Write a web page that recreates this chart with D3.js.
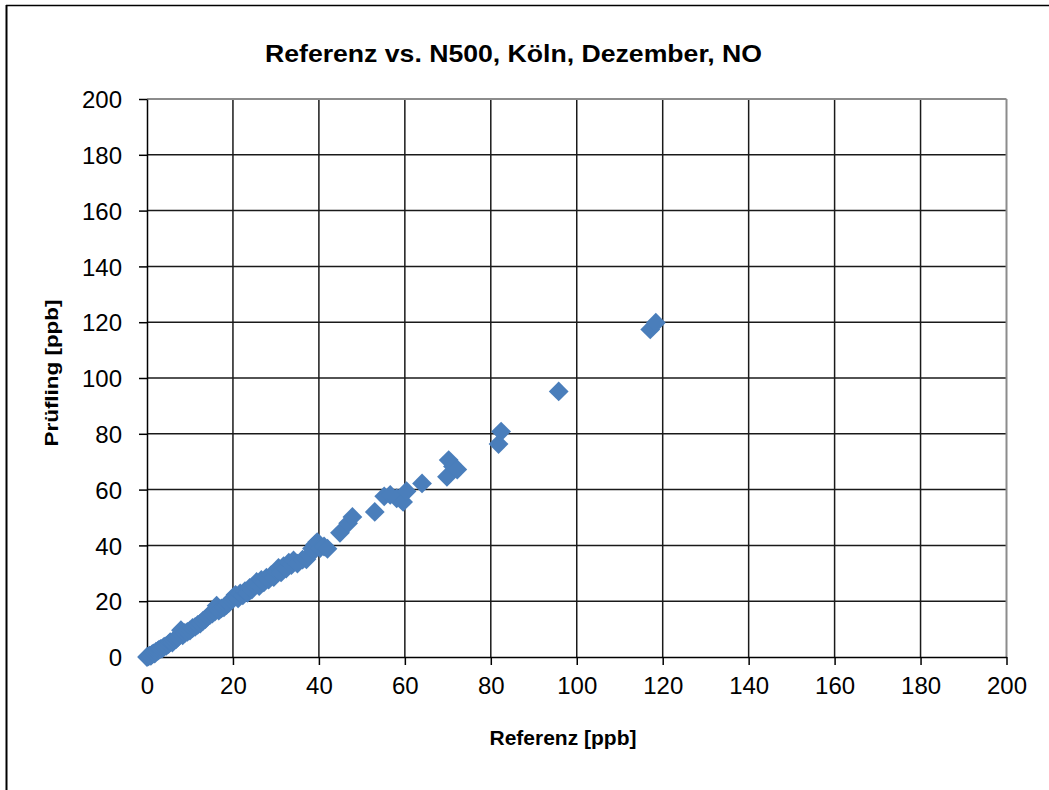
<!DOCTYPE html>
<html>
<head>
<meta charset="utf-8">
<script src="https://cdn.jsdelivr.net/npm/d3@7"></script>
<style>
  html, body { margin: 0; padding: 0; background: #fff; }
  svg { display: block; }
  text { font-family: "Liberation Sans", Arial, sans-serif; fill: #000; }
</style>
</head>
<body>
<svg id="chart" width="1049" height="790"></svg>
<script>
// ---- data ----
const title = "Referenz vs. N500, Köln, Dezember, NO";
const xLabel = "Referenz [ppb]";
const yLabel = "Prüfling [ppb]";
const xTicks = [0, 20, 40, 60, 80, 100, 120, 140, 160, 180, 200];
const yTicks = [0, 20, 40, 60, 80, 100, 120, 140, 160, 180, 200];
const referenz = [0, 0.3, 0.6, 0.9, 1.2, 1.5, 1.8, 2.1, 2.5, 2.8, 3.2, 3.6, 4.0, 4.5, 5.0, 5.4, 5.9, 6.3, 6.8, 7.2,
  7.9, 8.3, 8.8, 9.4, 10.0, 10.6, 11.2, 11.8, 12.4, 13.0, 13.6, 14.1, 14.7, 15.2, 15.8, 16.2, 16.7, 17.3, 17.9, 18.5,
  19.0, 19.6, 20.1, 20.6, 21.2, 21.7, 22.3, 22.8, 23.4, 23.9, 24.4, 25.0, 25.5, 26.1, 26.6, 27.2, 27.8, 28.3, 28.9, 29.5,
  30.1, 30.6, 31.2, 31.8, 32.4, 33.0, 33.6, 34.1, 35.0, 36.2, 37.1, 37.8, 38.4, 39.1, 39.6, 40.3, 41.2, 42.0, 44.9, 46.8,
  47.8, 53.0, 55.2, 56.6, 58.1, 59.6, 60.4, 64.0, 69.8, 70.2, 71.2, 72.2, 81.8, 82.4, 95.8, 117.1, 118.4];
const pruefling = [0, 0.2, 0.5, 0.4, 1.0, 1.3, 1.2, 1.9, 2.2, 2.6, 2.9, 3.1, 3.7, 4.0, 4.6, 5.3, 5.2, 6.0, 6.4, 7.1,
  9.6, 7.8, 8.6, 9.0, 9.5, 10.4, 10.8, 11.5, 12.0, 12.9, 13.6, 14.5, 15.1, 15.6, 16.3, 18.4, 16.6, 17.4, 17.8, 18.6,
  19.3, 20.4, 21.2, 22.3, 21.0, 22.8, 22.1, 23.6, 23.0, 24.8, 24.2, 25.7, 26.9, 25.4, 27.6, 26.8, 28.4, 27.7, 29.3, 28.6,
  30.8, 31.9, 30.3, 32.6, 31.7, 33.8, 32.9, 34.6, 33.5, 34.9, 35.0, 36.6, 38.9, 40.3, 41.2, 39.0, 39.6, 38.8, 44.5, 47.9,
  50.2, 52.0, 57.6, 58.1, 56.9, 55.6, 59.4, 62.2, 64.6, 70.6, 68.3, 67.2, 76.3, 80.8, 95.2, 117.4, 119.8];

// ---- layout ----
const svg = d3.select("#chart");
const L = 147, R = 1006.5, T = 99, B = 657;
const x = d3.scaleLinear().domain([0, 200]).range([L, R]);
const y = d3.scaleLinear().domain([0, 200]).range([B, T]);

// outer frame (top + left visible)
svg.append("line").attr("x1", 6).attr("x2", 1049).attr("y1", 5.5).attr("y2", 5.5)
  .attr("stroke", "#000").attr("stroke-width", 1.5);
svg.append("line").attr("x1", 6.5).attr("x2", 6.5).attr("y1", 5).attr("y2", 790)
  .attr("stroke", "#000").attr("stroke-width", 2);

// gridlines
const grid = svg.append("g");
grid.selectAll("line.h").data(yTicks.filter(d => d > 0 && d < 200)).enter().append("line")
  .attr("x1", L).attr("x2", R).attr("y1", d => y(d)).attr("y2", d => y(d))
  .attr("stroke", "#1a1a1a").attr("stroke-width", 1.5);
grid.selectAll("line.v").data(xTicks.filter(d => d > 0 && d < 200)).enter().append("line")
  .attr("y1", T).attr("y2", B).attr("x1", d => x(d)).attr("x2", d => x(d))
  .attr("stroke", "#1a1a1a").attr("stroke-width", 1.5);
// plot area border top/right (grey)
grid.append("line").attr("x1", L).attr("x2", R).attr("y1", y(200)).attr("y2", y(200))
  .attr("stroke", "#8c8c8c").attr("stroke-width", 2);
grid.append("line").attr("x1", x(200)).attr("x2", x(200)).attr("y1", T).attr("y2", B)
  .attr("stroke", "#8c8c8c").attr("stroke-width", 2);

// axes
const xAxis = d3.axisBottom(x).tickValues(xTicks).tickSize(8).tickPadding(12).tickSizeOuter(0);
const yAxis = d3.axisLeft(y).tickValues(yTicks).tickSize(8).tickPadding(17).tickSizeOuter(0);
const gx = svg.append("g").attr("transform", `translate(0,${B})`).call(xAxis);
const gy = svg.append("g").attr("transform", `translate(${L},0)`).call(yAxis);
[gx, gy].forEach(g => {
  g.select(".domain").attr("stroke", "#000").attr("stroke-width", 1.5);
  g.selectAll(".tick line").attr("stroke", "#000").attr("stroke-width", 1.5);
  g.selectAll(".tick text").attr("font-family", "'Liberation Sans', Arial, sans-serif")
    .attr("font-size", 24).attr("fill", "#000");
});
gy.selectAll(".tick text").attr("dy", "0.36em");

// points
const pts = referenz.map((v, i) => ({ x: v, y: pruefling[i] }));
const diamond = d3.symbol().type(d3.symbolSquare).size(196);
svg.append("g").selectAll("path").data(pts).enter().append("path")
  .attr("d", diamond)
  .attr("transform", d => `translate(${x(d.x)},${y(d.y)}) rotate(45)`)
  .attr("fill", "#4a7ebb");

// title & labels
svg.append("text").attr("x", 513.5).attr("y", 62).attr("text-anchor", "middle")
  .attr("font-weight", "bold").attr("font-size", 24)
  .attr("textLength", 497).attr("lengthAdjust", "spacingAndGlyphs").text(title);
svg.append("text").attr("x", 563).attr("y", 745).attr("text-anchor", "middle")
  .attr("font-weight", "bold").attr("font-size", 20)
  .attr("textLength", 147).attr("lengthAdjust", "spacingAndGlyphs").text(xLabel);
svg.append("text").attr("transform", "translate(58,373) rotate(-90)").attr("text-anchor", "middle")
  .attr("font-weight", "bold").attr("font-size", 19)
  .attr("textLength", 147).attr("lengthAdjust", "spacingAndGlyphs").text(yLabel);
</script>
</body>
</html>
